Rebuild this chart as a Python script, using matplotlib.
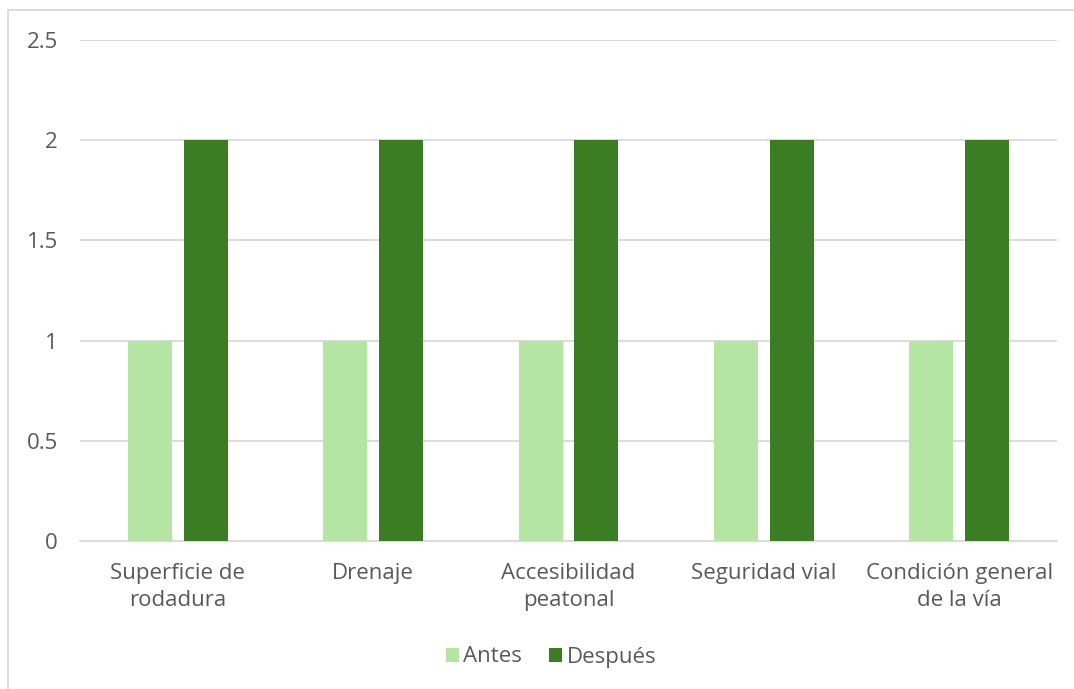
import matplotlib.pyplot as plt
import numpy as np
from matplotlib.lines import Line2D

categories = ['Superficie de\nrodadura', 'Drenaje', 'Accesibilidad\npeatonal',
              'Seguridad vial', 'Condición general\nde la vía']
antes = [1, 1, 1, 1, 1]
despues = [2, 2, 2, 2, 2]

c_antes = '#B4E5A2'
c_despues = '#3B7D23'
grid_c = '#D9D9D9'
text_c = '#595959'

plt.rcParams['font.family'] = ['Open Sans', 'DejaVu Sans']

fig = plt.figure(figsize=(10.74, 6.89), dpi=100)
W, H = 1074, 689
ax = fig.add_axes([80 / W, 1 - 541 / H, 977 / W, 501 / H])

x = np.arange(len(categories))
w = 0.225
off = 0.143
ax.bar(x - off, antes, w, color=c_antes, label='Antes', zorder=3)
ax.bar(x + off, despues, w, color=c_despues, label='Después', zorder=3)

ax.set_xlim(-0.5, len(categories) - 0.5)
ax.set_ylim(0, 2.5)
ax.set_yticks([0, 0.5, 1, 1.5, 2, 2.5])
ax.set_yticklabels(['0', '0.5', '1', '1.5', '2', '2.5'])
ax.yaxis.grid(True, color=grid_c, linewidth=1.3, zorder=0)
ax.set_xticks(x)
ax.set_xticklabels(categories, linespacing=1.38)
ax.tick_params(axis='both', length=0, labelsize=16, colors=text_c)
ax.tick_params(axis='y', pad=16)
ax.tick_params(axis='x', pad=16)
for s in ['top', 'right', 'left']:
    ax.spines[s].set_visible(False)
ax.spines['bottom'].set_color(grid_c)
ax.spines['bottom'].set_linewidth(1.3)

leg = fig.legend(loc='center', bbox_to_anchor=(551 / W, 1 - 657 / H), ncol=2,
                 frameon=False, fontsize=16, handlelength=0.6, handleheight=0.6,
                 handletextpad=0.2, columnspacing=1.2)
for t in leg.get_texts():
    t.set_color(text_c)

# chart area border (left and top edges)
fig.add_artist(Line2D([8 / W, 8 / W], [0, 1 - 10 / H], color=grid_c, lw=1.3,
                      transform=fig.transFigure))
fig.add_artist(Line2D([8 / W, 1], [1 - 10 / H, 1 - 10 / H], color=grid_c, lw=1.3,
                      transform=fig.transFigure))

fig.savefig('out.png', dpi=100, facecolor='white')
